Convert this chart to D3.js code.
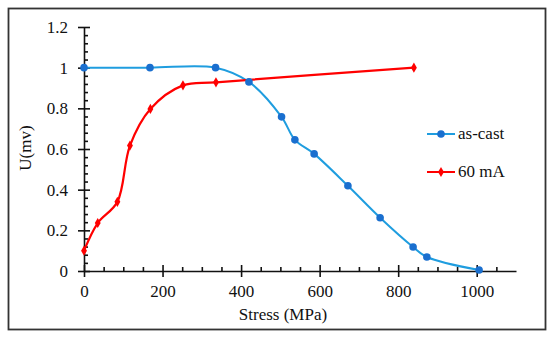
<!DOCTYPE html>
<html>
<head>
<meta charset="utf-8">
<script src="https://d3js.org/d3.v7.min.js"></script>
</head>
<body style="margin:0; background:#fff">
<svg width="550" height="340"></svg>
<script>
// data
const castStress = [0, 168, 335, 420, 503, 537, 586, 672, 754, 838, 873, 1006];
const castU      = [1, 1, 1, 0.93, 0.758, 0.645, 0.576, 0.419, 0.262, 0.118, 0.069, 0.005];
const mAStress   = [0, 35, 85, 117, 169, 252, 336, 840];
const mAU        = [0.1, 0.236, 0.34, 0.617, 0.797, 0.913, 0.928, 1.0];
const xTicks = [0, 200, 400, 600, 800, 1000];
const yTicks = [0, 0.2, 0.4, 0.6, 0.8, 1, 1.2];
const seriesNames = ['as-cast', '60 mA'];

const font = 'Liberation Serif';
const svg = d3.select('svg');

// outer frame
svg.append('rect')
    .attr('x', 8.5).attr('y', 8.5)
    .attr('width', 537).attr('height', 321)
    .attr('fill', 'none')
    .attr('stroke', '#333')
    .attr('stroke-width', 1.8);

const xScale = d3.scaleLinear().domain([0, 1100]).range([84, 516]);
const yScale = d3.scaleLinear().domain([0, 1.2]).range([271, 27]);

const x0 = xScale(0), y0 = yScale(0);

// minor ticks (inside only)
const xMinor = d3.range(50, 1100, 50).filter(v => v % 200 !== 0);
const yMinor = d3.range(0.04, 1.2, 0.04).filter(v => Math.abs(v / 0.2 - Math.round(v / 0.2)) > 1e-6);

const xMinorG = svg.append('g').attr('transform', `translate(0,${y0})`)
    .call(d3.axisBottom(xScale).tickValues(xMinor).tickSize(-4).tickFormat(''));
xMinorG.select('.domain').remove();

const yMinorG = svg.append('g').attr('transform', `translate(${x0},0)`)
    .call(d3.axisLeft(yScale).tickValues(yMinor).tickSize(-4).tickFormat(''));
yMinorG.select('.domain').remove();

// major axes, ticks cross the line
const xAxisG = svg.append('g').attr('transform', `translate(0,${y0})`)
    .call(d3.axisBottom(xScale).tickValues(xTicks).tickSize(6).tickSizeOuter(0).tickFormat(d3.format('d')));
xAxisG.selectAll('.tick line').attr('y1', -6);
xAxisG.selectAll('.tick text').attr('y', 14);

const yAxisG = svg.append('g').attr('transform', `translate(${x0},0)`)
    .call(d3.axisLeft(yScale).tickValues(yTicks).tickSize(6).tickSizeOuter(0).tickFormat(d => String(+d.toFixed(1))));
yAxisG.selectAll('.tick line').attr('x1', 6);
yAxisG.selectAll('.tick text').attr('x', -16);

svg.selectAll('.domain, .tick line').attr('stroke', '#111').attr('stroke-width', 1.6);
svg.selectAll('.tick text')
    .attr('fill', '#111')
    .style('font-family', font)
    .style('font-size', '17px');

// axis labels
svg.append('text')
    .attr('x', 283).attr('y', 320)
    .attr('text-anchor', 'middle')
    .attr('fill', '#111')
    .style('font-family', font)
    .style('font-size', '17px')
    .text('Stress (MPa)');

svg.append('text')
    .attr('transform', `translate(31,148) rotate(-90)`)
    .attr('text-anchor', 'middle')
    .attr('fill', '#111')
    .style('font-family', font)
    .style('font-size', '17px')
    .text('U(mv)');

// series
const line = d3.line()
    .x(d => xScale(d[0]))
    .y(d => yScale(d[1]))
    .curve(d3.curveCatmullRom.alpha(0.5));

const castData = castStress.map((s, i) => [s, castU[i]]);
const mAData = mAStress.map((s, i) => [s, mAU[i]]);

svg.append('path').datum(castData)
    .attr('d', line)
    .attr('fill', 'none')
    .attr('stroke', '#1f9ddf')
    .attr('stroke-width', 2);

svg.append('path').datum(mAData)
    .attr('d', line)
    .attr('fill', 'none')
    .attr('stroke', '#ff0000')
    .attr('stroke-width', 2.2);

const diamond = d3.symbol().type(d3.symbolDiamond).size(30);

svg.append('g').selectAll('circle').data(castData)
    .join('circle')
    .attr('cx', d => xScale(d[0]))
    .attr('cy', d => yScale(d[1]))
    .attr('r', 3.8)
    .attr('fill', '#1a6fcf');

svg.append('g').selectAll('path').data(mAData)
    .join('path')
    .attr('d', diamond)
    .attr('transform', d => `translate(${xScale(d[0])},${yScale(d[1])})`)
    .attr('fill', '#ff0000');

// legend
const legend = svg.append('g');
const legendRows = [
    { name: seriesNames[0], y: 134, stroke: '#1f9ddf', mark: '#1a6fcf', circle: true },
    { name: seriesNames[1], y: 172, stroke: '#ff0000', mark: '#ff0000', circle: false }
];
legendRows.forEach(r => {
    legend.append('line')
        .attr('x1', 427).attr('x2', 455)
        .attr('y1', r.y).attr('y2', r.y)
        .attr('stroke', r.stroke).attr('stroke-width', 2);
    if (r.circle) {
        legend.append('circle').attr('cx', 441).attr('cy', r.y).attr('r', 3.8).attr('fill', r.mark);
    } else {
        legend.append('path').attr('d', diamond).attr('transform', `translate(441,${r.y})`).attr('fill', r.mark);
    }
    legend.append('text')
        .attr('x', 458).attr('y', r.y).attr('dy', '0.32em')
        .attr('fill', '#111')
        .style('font-family', font)
        .style('font-size', '17px')
        .text(r.name);
});
</script>
</body>
</html>
